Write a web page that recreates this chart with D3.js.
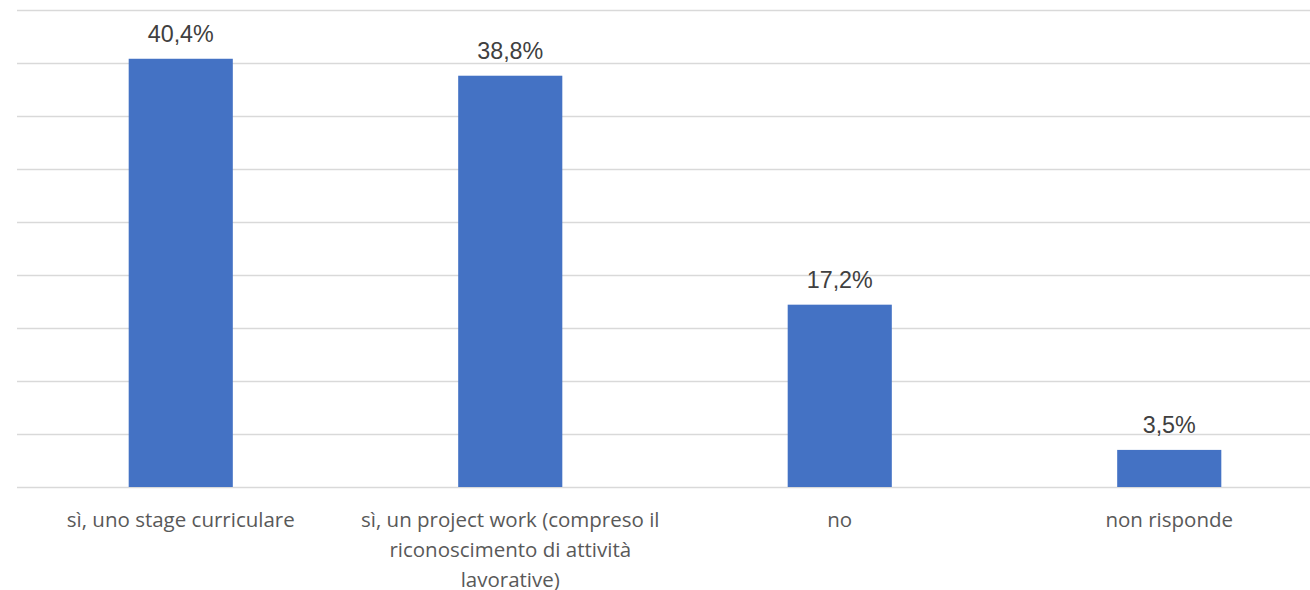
<!DOCTYPE html>
<html>
<head>
<meta charset="utf-8">
<script src="https://cdn.jsdelivr.net/npm/d3@7"></script>
<style>
  html, body { margin: 0; padding: 0; background: #fff; }
  svg { display: block; }
</style>
</head>
<body>
<svg id="chart" width="1310" height="590"></svg>
<script>
const categories = [
  ["sì, uno stage curriculare"],
  ["sì, un project work (compreso il", "riconoscimento di attività", "lavorative)"],
  ["no"],
  ["non risponde"]
];
const categoryKeys = ["stage", "project", "no", "nr"];
const values = [40.4, 38.8, 17.2, 3.5];
const valueLabels = ["40,4%", "38,8%", "17,2%", "3,5%"];
const yTicks = [0, 5, 10, 15, 20, 25, 30, 35, 40, 45];

const svg = d3.select("#chart");
const W = 1310, H = 590;
const left = 16, step = 329.5, baseY = 487, topY = 10;

const x = d3.scaleBand()
  .domain(categoryKeys)
  .range([left, left + step * categoryKeys.length])
  .paddingInner(0.684)
  .paddingOuter(0.342);

const y = d3.scaleLinear().domain([0, 45]).range([baseY, topY]);

// gridlines
svg.append("g")
  .selectAll("line")
  .data(yTicks)
  .join("line")
  .attr("x1", 17)
  .attr("x2", W)
  .attr("y1", d => Math.round(y(d)) + 0.5)
  .attr("y2", d => Math.round(y(d)) + 0.5)
  .attr("stroke", "#d9d9d9")
  .attr("stroke-width", 1.5);

// bars
svg.append("g")
  .selectAll("rect")
  .data(values)
  .join("rect")
  .attr("x", (d, i) => x(categoryKeys[i]))
  .attr("y", d => y(d))
  .attr("width", x.bandwidth())
  .attr("height", d => baseY - y(d))
  .attr("fill", "#4472c4");

// value labels
svg.append("g")
  .selectAll("text")
  .data(values)
  .join("text")
  .attr("x", (d, i) => x(categoryKeys[i]) + x.bandwidth() / 2)
  .attr("y", d => y(d) - 16.5)
  .attr("text-anchor", "middle")
  .attr("font-family", "Liberation Sans, Arial, sans-serif")
  .attr("font-size", 23.3)
  .attr("fill", "#404040")
  .text((d, i) => valueLabels[i]);

// category labels
const cat = svg.append("g")
  .selectAll("text")
  .data(categories)
  .join("text")
  .attr("text-anchor", "middle")
  .attr("font-family", "Open Sans, Noto Sans, sans-serif")
  .attr("font-size", 20.5)
  .attr("fill", "#595959")
  .attr("transform", (d, i) => `translate(${x(categoryKeys[i]) + x.bandwidth() / 2},${baseY + 39.5})`);

cat.selectAll("tspan")
  .data(d => d)
  .join("tspan")
  .attr("x", 0)
  .attr("y", (d, i) => i * 30)
  .text(d => d);
</script>
</body>
</html>
